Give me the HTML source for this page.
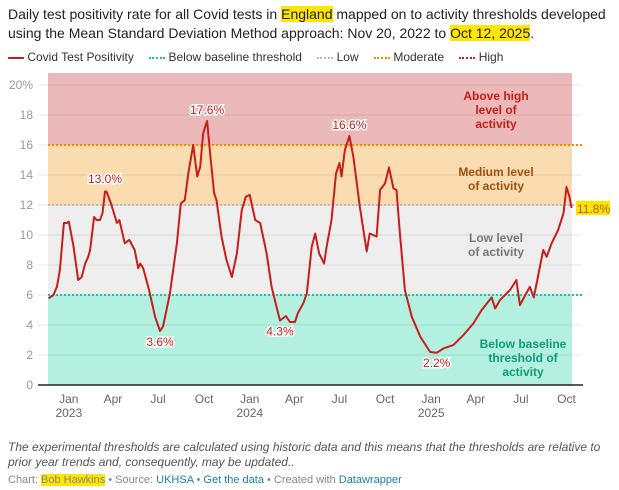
<!DOCTYPE html>
<html><head><meta charset="utf-8"><style>
body{margin:0;background:#fff;font-family:"Liberation Sans",sans-serif;width:619px;height:490px;overflow:hidden;position:relative}
.t{position:absolute;left:8px;top:5px;font-size:14px;line-height:19px;color:#222;width:615px;white-space:nowrap}
.hl{background:#ffe600}
.lg{position:absolute;top:50px;left:8px;font-size:12px;color:#333;white-space:nowrap}
.lg span{margin-right:12px}
.fn{position:absolute;left:8px;top:440px;font-size:12px;font-style:italic;color:#555;line-height:15px;width:605px}
.cr{position:absolute;left:8px;top:474px;font-size:11px;color:#888}
.cr a{color:#1d81a2;text-decoration:none}
</style></head><body>
<div class="t">Daily test positivity rate for all Covid tests in <span class="hl">England</span> mapped on to activity thresholds developed<br>using the Mean Standard Deviation Method approach: Nov 20, 2022 to <span class="hl">Oct 12, 2025</span>.</div>
<div class="lg">
<span><b style="display:inline-block;width:16px;height:2px;background:#c71e1d;vertical-align:middle"></b> Covid Test Positivity</span>
<span><b style="display:inline-block;width:16px;border-top:2px dotted #17c8a5;vertical-align:middle"></b> Below baseline threshold</span>
<span><b style="display:inline-block;width:16px;border-top:2px dotted #bbb;vertical-align:middle"></b> Low</span>
<span><b style="display:inline-block;width:16px;border-top:2px dotted #f08c00;vertical-align:middle"></b> Moderate</span>
<span><b style="display:inline-block;width:16px;border-top:2px dotted #c71e1d;vertical-align:middle"></b> High</span>
</div>
<svg id="c" width="619" height="490" style="position:absolute;left:0;top:0"></svg>
<div class="fn">The experimental thresholds are calculated using historic data and this means that the thresholds are relative to prior year trends and, consequently, may be updated..</div>
<div class="cr">Chart: <span class="hl">Bob Hawkins</span> • Source: <a>UKHSA</a> • <a>Get the data</a> • Created with <a>Datawrapper</a></div>
<script>
const days=[1,11,18,24,32,38,42,51,61,68,75,81,85,93,98,105,110,115,118,127,139,144,155,164,175,182,186,192,204,216,226,232,239,246,260,268,276,283,293,301,307,313,321,327,335,340,350,360,371,381,391,399,407,418,428,441,451,461,468,480,488,498,504,515,522,532,539,547,557,562,572,581,588,592,599,608,616,629,643,649,663,670,680,688,697,703,710,720,734,751,771,784,798,818,838,858,875,895,902,912,932,945,952,972,980,987,999,1006,1016,1029,1040,1046,1052,1056];
const vals=[5.78,6.0,6.55,7.67,10.8,10.8,10.9,9.33,7.0,7.2,8.1,8.55,9.0,11.2,11.0,11.0,11.45,12.9,12.9,12.1,10.8,11.0,9.45,9.67,9.0,7.78,8.1,7.78,6.33,4.55,3.6,3.9,5.0,6.1,9.45,12.1,12.33,14.1,16.0,13.9,14.55,16.8,17.6,15.45,12.8,12.33,9.9,8.33,7.2,8.78,11.67,12.55,12.67,11.0,10.8,8.78,6.55,5.22,4.3,4.6,4.2,4.2,4.78,5.45,6.1,9.2,10.1,8.78,8.1,9.2,11.0,14.1,14.8,13.9,15.67,16.6,15.2,11.9,8.9,10.1,9.9,13.0,13.45,14.5,13.1,13.0,10.1,6.33,4.55,3.22,2.2,2.15,2.44,2.67,3.33,4.1,5.0,5.84,5.1,5.67,6.33,7.0,5.33,6.55,5.84,7.0,9.0,8.55,9.45,10.33,11.45,13.2,12.55,11.8];
const yTicks=[0,2,4,6,8,10,12,14,16,18,20];
const bands=[[0,6,'#b3f0e0'],[6,12,'#eeeeee'],[12,16,'#fbdcb0'],[16,20.8,'#ebb9b9']];
const thresholds=[[6,'#17c8a5'],[12,'#bbbbbb'],[16,'#f08c00']];
const xTickDays=[42,131,222,315,407,497,588,680,773,863,954,1046];
const xTickLabels=['Jan','Apr','Jul','Oct','Jan','Apr','Jul','Oct','Jan','Apr','Jul','Oct'];
const yearLabels=[['2023',42],['2024',407],['2025',773]];
const annots=[[115,13.0,'13.0%',-1],[226,3.6,'3.6%',1],[321,17.6,'17.6%',-1],[468,4.3,'4.3%',1],[608,16.6,'16.6%',-1],[784,2.2,'2.2%',1]];
const X=d=>48+d*0.4957, Y=v=>385-v*15;
const s=document.getElementById('c');const NS='http://www.w3.org/2000/svg';
function mk(t,a,p){const e=document.createElementNS(NS,t);for(const k in a)e.setAttribute(k,a[k]);(p||s).appendChild(e);return e;}
bands.forEach(b=>{const r=mk('rect',{x:48,y:Y(b[1]),width:524,height:Y(b[0])-Y(b[1]),fill:b[2]});

});
yTicks.forEach(v=>{if(v>0){const l=mk('line',{x1:38,x2:583,y1:Y(v),y2:Y(v),stroke:'rgba(0,0,0,0.09)'});

}
const t=mk('text',{x:33,y:Y(v)+4,'text-anchor':'end','font-size':12,fill:'#999'});t.textContent=v+(v==20?'%':'');

});
thresholds.forEach(th=>{const l=mk('line',{x1:48,x2:583,y1:Y(th[0]),y2:Y(th[0]),stroke:th[1],'stroke-width':2,'stroke-dasharray':'2,2'});

});
const ax=mk('line',{x1:38,x2:583,y1:385,y2:385,stroke:'#222','stroke-width':1.5});


xTickDays.forEach((d,i)=>{const t=mk('text',{x:X(d),y:403,'text-anchor':'middle','font-size':12,fill:'#666'});t.textContent=xTickLabels[i];

});
yearLabels.forEach(y=>{const t=mk('text',{x:X(y[1]),y:417,'text-anchor':'middle','font-size':12,fill:'#666'});t.textContent=y[0];

});
const zl=[['Above high','level of','activity',496,100,'#c71e1d'],['Medium level','of activity','',496,176,'#a0500f'],['Low level','of activity','',496,242,'#777'],['Below baseline','threshold of','activity',523,348,'#0f9b7c']];
zl.forEach(z=>{const t=mk('text',{x:z[3],y:z[4],'text-anchor':'middle','font-size':12,'font-weight':'bold',fill:z[5]});


[z[0],z[1],z[2]].forEach((w,i)=>{if(w){const ts=mk('tspan',{x:z[3],dy:i?14:0},t);ts.textContent=w;}});});
const p=mk('path',{d:days.map((d,i)=>(i?'L':'M')+X(d).toFixed(1)+','+Y(vals[i]).toFixed(1)).join(''),fill:'none',stroke:'#c71e1d','stroke-width':2,'stroke-linejoin':'round'});


annots.forEach(a=>{const t=mk('text',{x:X(a[0]),y:Y(a[1])+(a[3]<0?-7:15),'text-anchor':'middle','font-size':12,fill:'#c71e1d',stroke:'#fff','stroke-width':3,'paint-order':'stroke'});t.textContent=a[2];

});
const lv=vals[vals.length-1];
const r=mk('rect',{x:576,y:Y(lv)-7,width:34,height:14,fill:'#ffe600'});


const lt=mk('text',{x:577,y:Y(lv)+5,'font-size':12,fill:'#b85c00'});lt.textContent=lv.toFixed(1)+'%';


</script>
</body></html>
